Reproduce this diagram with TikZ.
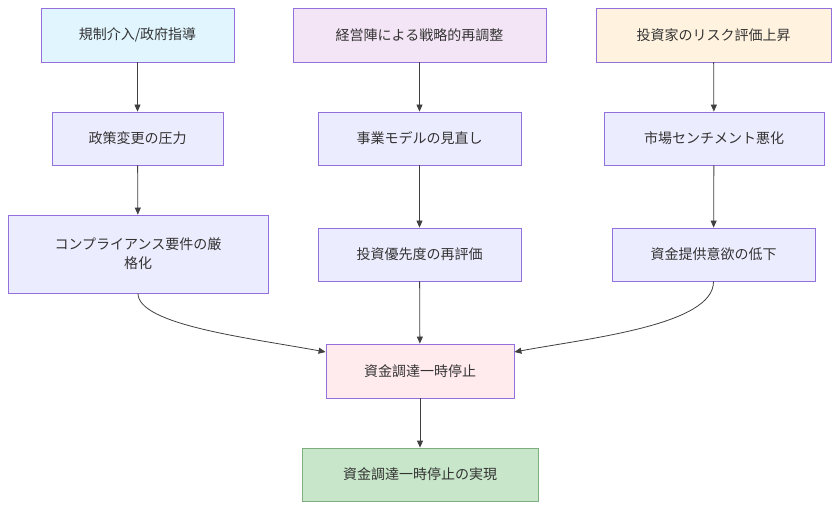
\documentclass[tikz,border=0pt]{standalone}
\usepackage{fontspec}
\newfontfamily\cjk{Noto Sans CJK SC}
\usetikzlibrary{arrows.meta}
\begin{document}
\begin{tikzpicture}[x=1pt,y=-1pt,
 box/.style={draw=#1,line width=0.8pt,inner sep=0pt,font=\cjk\fontsize{14}{19}\selectfont,text=black!80,align=center},
 ar/.style={-{Triangle[length=7pt,width=6pt]},line width=0.8pt,draw=black!75}]
\useasboundingbox (0,0) rectangle (840,510);
\def\bx#1#2#3#4#5#6#7#8{\node[box=#7,fill=#8,minimum width=#3-#2,minimum height=#5-#4] (#1) at ({(#2+#3)/2},{(#4+#5)/2}) {#6};}
\definecolor{bd}{HTML}{9370DB}
\definecolor{fa}{HTML}{E1F5FE}\definecolor{fb}{HTML}{F3E5F5}\definecolor{fc}{HTML}{FFF3E0}
\definecolor{fn}{HTML}{ECECFF}\definecolor{fd}{HTML}{FFEBEE}\definecolor{fe}{HTML}{C8E6C9}
\definecolor{ge}{HTML}{7FAF7F}
\bx{a1}{41}{234}{8}{62}{規制介入/政府指導}{bd}{fa}
\bx{b1}{293}{546}{8}{62}{経営陣による戦略的再調整}{bd}{fb}
\bx{c1}{596}{831}{8}{62}{投資家のリスク評価上昇}{bd}{fc}
\bx{a2}{52}{223}{112}{165}{政策変更の圧力}{bd}{fn}
\bx{b2}{318}{521}{112}{165}{事業モデルの見直し}{bd}{fn}
\bx{c2}{604}{824}{112}{165}{市場センチメント悪化}{bd}{fn}
\bx{a3}{8}{268}{215}{293}{コンプライアンス要件の厳\\格化}{bd}{fn}
\bx{b3}{318}{521}{228}{281}{投資優先度の再評価}{bd}{fn}
\bx{c3}{612}{815}{228}{281}{資金提供意欲の低下}{bd}{fn}
\bx{d}{326}{514}{344}{398}{資金調達一時停止}{bd}{fd}
\bx{e}{302}{538}{448}{501}{資金調達一時停止の実現}{ge}{fe}
\draw[ar] (a1) -- (a2);\draw[ar] (a2) -- (a3);
\draw[ar] (b1) -- (b2);\draw[ar] (b2) -- (b3);
\draw[ar] (c1) -- (c2);\draw[ar] (c2) -- (c3);
\draw[ar] (b3) -- (d);\draw[ar] (d) -- (e);
\draw[ar] (a3.south) .. controls (138,325) and (250,338) .. (d.west |- 0,352);
\draw[ar] (c3.south) .. controls (714,325) and (590,338) .. (d.east |- 0,352);
\end{tikzpicture}
\end{document}
